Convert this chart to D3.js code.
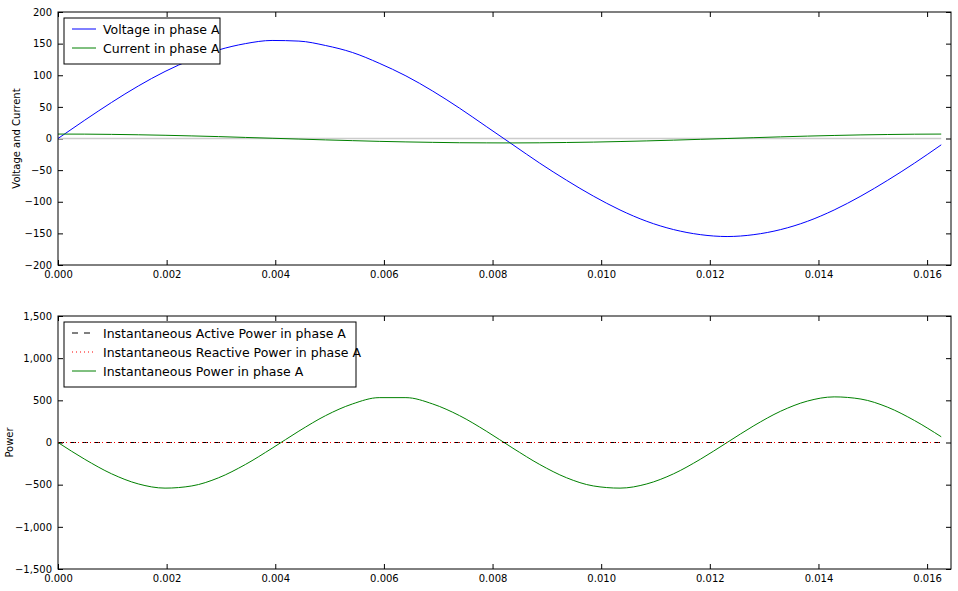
<!DOCTYPE html>
<html><head><meta charset="utf-8">
<script src="https://cdn.jsdelivr.net/npm/d3@7"></script>
<style>body{margin:0;background:#fff;font-family:"DejaVu Sans",sans-serif}</style>
</head><body><svg id="c" width="958" height="591"></svg>
<script>
const times=[0,0.000493,0.000986,0.001478,0.001971,0.002464,0.002957,0.003449,0.003942,0.004435,0.004927,0.00542,0.005913,0.006405,0.006898,0.007391,0.007884,0.008376,0.008869,0.009362,0.009855,0.010347,0.01084,0.011333,0.011825,0.012318,0.012811,0.013304,0.013796,0.014289,0.014782,0.015275,0.015767,0.01626];
const voltage=[0,29,57,83,106,125,140,150,155,154,147,136,119,99,75,48,19,-10,-39,-66,-91,-113,-131,-144,-152,-155,-152,-144,-131,-113,-91,-66,-39,-10];
const current=[7,6.9,6.5,5.9,5.1,4.1,3,1.7,0.4,-0.9,-2.2,-3.4,-4.5,-5.4,-6.1,-6.7,-6.9,-7,-6.8,-6.3,-5.7,-4.8,-3.8,-2.6,-1.3,0,1.3,2.6,3.8,4.8,5.7,6.3,6.8,7];
const power=[0,-199,-371,-491,-541,-515,-418,-261,-68,135,319,457,532,532,457,319,135,-68,-261,-418,-515,-541,-491,-371,-199,0,199,371,491,541,515,418,261,68];
const activePower=times.map(()=>0);
const reactivePower=times.map(()=>0);
const xTicks=[0,0.002,0.004,0.006,0.008,0.010,0.012,0.014,0.016];
const yTicksTop=[-200,-150,-100,-50,0,50,100,150,200];
const yTicksBot=[-1500,-1000,-500,0,500,1000,1500];

const svg=d3.select("#c");
const L=58,R=951;
const x=d3.scaleLinear().domain([0,0.01644]).range([L,R]);
function panel(top,bot,yDom,yTicks,ylab,series,legend,legW){
  const y=d3.scaleLinear().domain(yDom).range([bot,top]);
  const g=svg.append("g");
  const fmt=d=>d.toFixed(3);
  const ax=g.append("g").attr("transform",`translate(0,${bot})`).call(d3.axisBottom(x).tickValues(xTicks).tickFormat(fmt).tickSizeInner(-5).tickSizeOuter(0).tickPadding(6));
  g.append("g").attr("transform",`translate(0,${top})`).call(d3.axisTop(x).tickValues(xTicks).tickFormat("").tickSizeInner(-5).tickSizeOuter(0));
  g.append("g").attr("transform",`translate(${L},0)`).call(d3.axisLeft(y).tickValues(yTicks).tickSizeInner(-5).tickSizeOuter(0).tickPadding(6));
  g.append("g").attr("transform",`translate(${R},0)`).call(d3.axisRight(y).tickValues(yTicks).tickFormat("").tickSizeInner(-5).tickSizeOuter(0));
  g.selectAll(".domain").remove();
  g.selectAll("text").attr("font-size",10).attr("fill","#000").attr("font-family","DejaVu Sans");
  g.selectAll(".tick line").attr("stroke","#000");
  const cp="clip"+top;
  svg.append("clipPath").attr("id",cp).append("rect").attr("x",L).attr("y",top).attr("width",R-L).attr("height",bot-top);
  const line=d3.line().x((d,i)=>x(times[i])).y(d=>y(d)).curve(d3.curveMonotoneX);
  series.forEach(s=>{
    g.append("path").attr("d",line(s.data)).attr("fill","none").attr("stroke",s.color).attr("stroke-width",s.w||1).attr("stroke-dasharray",s.dash||null).attr("clip-path",`url(#${cp})`);
  });
  g.append("rect").attr("x",L).attr("y",top).attr("width",R-L).attr("height",bot-top).attr("fill","none").attr("stroke","#000");
  svg.append("text").attr("transform",`translate(${ylab.x},${(top+bot)/2}) rotate(-90)`).attr("text-anchor","middle").attr("font-size",10).text(ylab.t);
  const lg=svg.append("g").attr("transform",`translate(64,${top+6})`);
  lg.append("rect").attr("width",legW).attr("height",legend.length*19+8).attr("fill","#fff").attr("stroke","#000");
  legend.forEach((s,i)=>{
    const yy=11+i*19;
    lg.append("line").attr("x1",8).attr("x2",32).attr("y1",yy).attr("y2",yy).attr("stroke",s.color).attr("stroke-dasharray",s.dash||null);
    lg.append("text").attr("x",39).attr("y",yy+4.5).attr("font-size",12.5).text(s.label);
  });
}
panel(12,265,[-200,200],yTicksTop,{x:20,t:"Voltage and Current"},
 [{data:times.map(()=>0),color:"#cccccc",w:1.5},{data:voltage,color:"blue"},{data:current,color:"green"}],
 [{label:"Voltage in phase A",color:"blue"},{label:"Current in phase A",color:"green"}],156);
panel(316,569,[-1500,1500],yTicksBot,{x:13,t:"Power"},
 [{data:power,color:"green"},{data:activePower,color:"black",dash:"6,6"},{data:reactivePower,color:"red",dash:"1,3"}],
 [{label:"Instantaneous Active Power in phase A",color:"black",dash:"6,6"},{label:"Instantaneous Reactive Power in phase A",color:"red",dash:"1,3"},{label:"Instantaneous Power in phase A",color:"green"}],292);
</script></body></html>
